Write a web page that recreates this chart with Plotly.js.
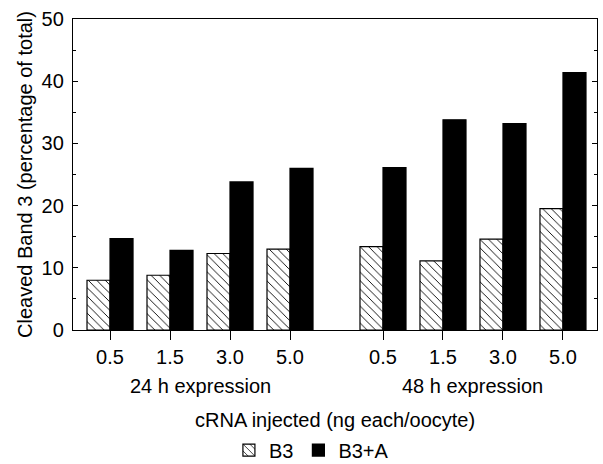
<!DOCTYPE html>
<html>
<head>
<meta charset="utf-8">
<script src="https://cdn.plot.ly/plotly-3.0.1.min.js"></script>
<style>html,body{margin:0;padding:0;background:#fff;}#chart{width:603px;height:464px;}</style>
</head>
<body>
<div id="chart"></div>
<script>
var doses = ["0.5", "1.5", "3.0", "5.0", "0.5", "1.5", "3.0", "5.0"];
var groupLabels = ["24 h expression", "48 h expression"];
var b3 = [8.0, 8.8, 12.3, 13.0, 13.4, 11.1, 14.6, 19.5];
var b3a = [14.7, 12.8, 23.8, 26.0, 26.1, 33.8, 33.2, 41.4];

var EXTRA_GAP = 0.55;
var xpos = doses.map(function (d, i) { return i + (i >= 4 ? EXTRA_GAP : 0); });

var font = "Liberation Sans, Arial, Helvetica, sans-serif";

var traces = [
  {
    type: "bar", name: "B3", x: xpos, y: b3,
    marker: {color: "#ffffff", line: {color: "#000", width: 1.2},
             pattern: {shape: "\\", fgcolor: "#000", bgcolor: "#fff", size: 6, solidity: 0.15}}
  },
  {
    type: "bar", name: "B3+A", x: xpos, y: b3a,
    marker: {color: "#000000", line: {color: "#000", width: 1.2}}
  }
];

var layout = {
  width: 603, height: 464,
  margin: {l: 73, r: 6, t: 19, b: 134, autoexpand: false},
  paper_bgcolor: "#fff", plot_bgcolor: "#fff",
  font: {family: font, color: "#000", size: 20},
  barmode: "group", bargap: 0.233, bargroupgap: 0,
  showlegend: true,
  legend: {orientation: "h", x: 0.455, xanchor: "center", y: -0.386, yanchor: "middle",
           font: {size: 20}, itemwidth: 30, traceorder: "normal"},
  xaxis: {
    range: [-0.617, 8.117], tickmode: "array", tickvals: xpos, ticktext: doses,
    ticks: "outside", ticklen: 9, tickcolor: "#000", showline: true, linecolor: "#000",
    linewidth: 1.2, mirror: true, showgrid: false, zeroline: false, automargin: false,
    tickfont: {size: 20}
  },
  yaxis: {
    range: [0, 50], dtick: 10, ticks: "inside", ticklen: 5, tickcolor: "#000",
    showline: true, linecolor: "#000", linewidth: 1.2, mirror: "ticks", automargin: false,
    showgrid: false, zeroline: false, tickfont: {size: 20}, ticklabelstandoff: 4,
    minor: {dtick: 5, ticks: "inside", ticklen: 3, tickcolor: "#000"},
    title: {text: "Cleaved Band 3 (percentage of total)", font: {size: 20}, standoff: 3}
  },
  annotations: [
    {text: groupLabels[0], x: (xpos[0] + xpos[3]) / 2, xref: "x", y: -0.18, yref: "paper",
     yanchor: "middle", showarrow: false, font: {size: 20}},
    {text: groupLabels[1], x: (xpos[4] + xpos[7]) / 2, xref: "x", y: -0.18, yref: "paper",
     yanchor: "middle", showarrow: false, font: {size: 20}},
    {text: "cRNA injected (ng each/oocyte)", x: 0.5, xref: "paper", y: -0.288, yref: "paper",
     yanchor: "middle", showarrow: false, font: {size: 20}}
  ]
};

Plotly.newPlot("chart", traces, layout, {displayModeBar: false, staticPlot: true});
</script>
</body>
</html>
